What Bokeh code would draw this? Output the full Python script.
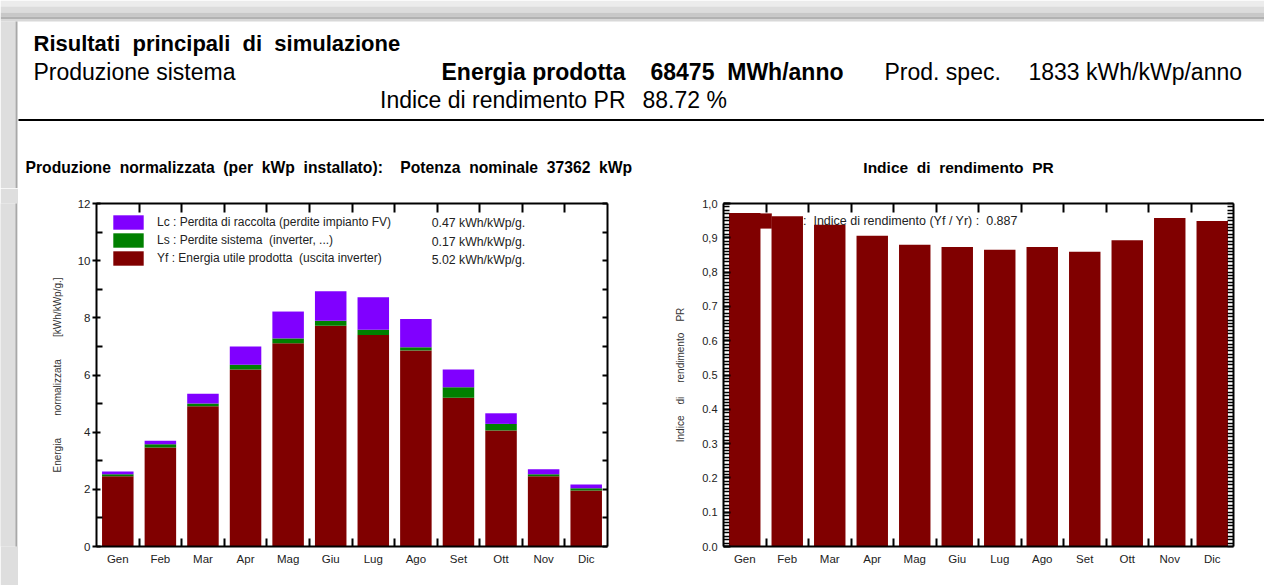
from bokeh.plotting import figure
from bokeh.models import (Range1d, LinearAxis, FixedTicker, CustomJSTickFormatter, Label,
                          Legend, LegendItem, ColumnDataSource, BoxAnnotation)
from bokeh.layouts import column, row
from bokeh.embed import file_html
from bokeh.resources import INLINE

FONT = "Liberation Sans"
NB = "\u00a0"

# ---------------- data ----------------
months = ["Gen", "Feb", "Mar", "Apr", "Mag", "Giu", "Lug", "Ago", "Set", "Ott", "Nov", "Dic"]
yf = [2.46, 3.46, 4.91, 6.19, 7.11, 7.72, 7.40, 6.86, 5.20, 4.06, 2.46, 1.96]   # Energia utile prodotta
ls = [0.07, 0.12, 0.09, 0.17, 0.17, 0.18, 0.18, 0.11, 0.37, 0.23, 0.07, 0.08]   # Perdite sistema
lc = [0.09, 0.12, 0.34, 0.64, 0.94, 1.03, 1.14, 0.99, 0.62, 0.37, 0.17, 0.13]   # Perdita di raccolta
pr = [0.972, 0.963, 0.938, 0.906, 0.880, 0.873, 0.865, 0.873, 0.859, 0.893, 0.958, 0.949]

stack_labels = ["Lc : Perdita di raccolta (perdite impianto FV)",
                "Ls : Perdite sistema  (inverter, ...)",
                "Yf : Energia utile prodotta  (uscita inverter)"]
stack_values = ["0.47 kWh/kWp/g.", "0.17 kWh/kWp/g.", "5.02 kWh/kWp/g."]
stack_colors = ["#8000ff", "#008000", "#800000"]
pr_label = ":  Indice di rendimento (Yf / Yr) :  0.887"

energy_ticks = [0, 2, 4, 6, 8, 10, 12]
energy_minor = [1, 3, 5, 7, 9, 11]
pr_ticks = [0.0, 0.1, 0.2, 0.3, 0.4, 0.5, 0.6, 0.7, 0.8, 0.9, 1.0]
pr_tick_labels = ["0.0", "0.1", "0.2", "0.3", "0.4", "0.5", "0.6", "0.7", "0,8", "0,9", "1,0"]

W, H = 1264, 585
HDR_H = 188
CH_H = H - HDR_H
SHADOW = "#dedede"
EDGE = "#a8a8a8"

# ---------------- header ----------------
hdr = figure(width=W, height=HDR_H, x_range=Range1d(0, W), y_range=Range1d(HDR_H, 0),
             x_axis_type=None, y_axis_type=None, output_backend="svg", toolbar_location=None,
             min_border=0)
hdr.outline_line_color = None

for t, b, c in [(0, 6, "#ececec"), (6, 12, "#dcdcdc"), (12, 16, "#c8c8c8"), (16, 19, "#b2b2b2"),
                (19, 21, "#d8d8d8")]:
    hdr.add_layout(BoxAnnotation(top=t, bottom=b, fill_color=c, fill_alpha=1, line_color=None))
hdr.add_layout(BoxAnnotation(left=0, right=15, top=21, bottom=HDR_H, fill_color=SHADOW,
                             fill_alpha=1, line_color=None))
hdr.add_layout(BoxAnnotation(left=15, right=17, top=21, bottom=HDR_H, fill_color=EDGE,
                             fill_alpha=1, line_color=None))
hdr.add_layout(BoxAnnotation(left=18, top=118.5, bottom=120.5, fill_color="black",
                             fill_alpha=1, line_color=None))


def lab(text, x, y, size, bold=False, align="left"):
    hdr.add_layout(Label(x=x, y=y, text=text, text_font=FONT, text_font_size=f"{size}px",
                         text_font_style="bold" if bold else "normal", text_align=align,
                         text_baseline="middle", text_color="black"))


G2 = NB * 2
lab("Risultati" + G2 + "principali" + G2 + "di" + G2 + "simulazione", 33, 43, 22, bold=True)
lab("Produzione sistema", 33, 71, 23)
lab("Energia prodotta", 625, 71, 23, bold=True, align="right")
lab("68475" + G2 + "MWh/anno", 650, 71, 23, bold=True)
lab("Prod. spec.", 884, 71, 23)
lab("1833 kWh/kWp/anno", 1028, 71, 23)
lab("Indice di rendimento PR", 625, 99, 23, align="right")
lab("88.72 %", 642, 99, 23)
lab("Produzione" + G2 + "normalizzata" + G2 + "(per" + G2 + "kWp" + G2 + "installato):" + NB * 4 +
    "Potenza" + G2 + "nominale" + G2 + "37362" + G2 + "kWp", 25, 167, 15.7, bold=True)
lab("Indice" + G2 + "di" + G2 + "rendimento" + G2 + "PR", 958, 167, 15.5, bold=True,
    align="center")

# ---------------- left strip (page shadow) ----------------
strip = figure(width=18, height=CH_H, x_range=Range1d(0, 18), y_range=Range1d(0, 1),
               x_axis_type=None, y_axis_type=None, output_backend="svg", toolbar_location=None,
               min_border=0)
strip.outline_line_color = None
strip.border_fill_color = SHADOW
strip.background_fill_color = SHADOW
strip.add_layout(BoxAnnotation(left=15, right=17, top=3, bottom=-3, fill_color=EDGE,
                               fill_alpha=1, line_color=None))
strip.add_layout(BoxAnnotation(left=17, right=18, top=3, bottom=-3, fill_color="white",
                               fill_alpha=1, line_color=None))

xs = [i + 0.5 for i in range(len(months))]
boundaries = list(range(1, len(months)))
month_fmt = CustomJSTickFormatter(args=dict(names=months),
                                  code="return names[Math.round(tick - 0.5)];")


def style_axis(ax, size="11.5px"):
    ax.axis_line_color = "black"
    ax.axis_line_width = 2
    ax.major_tick_line_color = "black"
    ax.major_tick_line_width = 2
    ax.minor_tick_line_color = "black"
    ax.minor_tick_line_width = 2
    ax.major_label_text_font = FONT
    ax.major_label_text_font_size = size
    ax.major_label_text_color = "#222222"
    ax.axis_label_text_font = FONT
    ax.axis_label_text_font_style = "normal"
    ax.axis_label_text_font_size = "10px"
    ax.axis_label_text_color = "#333333"


def add_x_axes(p):
    bx = LinearAxis(ticker=FixedTicker(ticks=xs, minor_ticks=boundaries), formatter=month_fmt)
    style_axis(bx)
    bx.major_tick_in = 0
    bx.major_tick_out = 0
    bx.minor_tick_in = 8
    bx.minor_tick_out = 0
    bx.major_label_standoff = 6
    p.add_layout(bx, "below")
    tx = LinearAxis(ticker=FixedTicker(ticks=[], minor_ticks=boundaries))
    style_axis(tx)
    tx.minor_tick_in = 9
    tx.minor_tick_out = 0
    p.add_layout(tx, "above")


# ---------------- left chart ----------------
pl = figure(width=632, height=CH_H, x_range=Range1d(0, 12), y_range=Range1d(0, 12),
            x_axis_type=None, y_axis_type=None, output_backend="svg", toolbar_location=None,
            min_border_left=78, min_border_right=43, min_border_top=15, min_border_bottom=39)
pl.outline_line_color = None
pl.grid.visible = False

src = ColumnDataSource(dict(x=xs, yf=yf, ls=ls, lc=lc))
rs = pl.vbar_stack(["yf", "ls", "lc"], x="x", width=0.74, source=src,
                   fill_color=[stack_colors[2], stack_colors[1], stack_colors[0]], line_color=None)
r_yf, r_ls, r_lc = rs

ly = LinearAxis(ticker=FixedTicker(ticks=energy_ticks, minor_ticks=energy_minor),
                axis_label="Energia" + NB * 8 + "normalizzata" + NB * 8 + "[kWh/kWp/g.]")
style_axis(ly)
ly.major_tick_in = 4
ly.major_tick_out = 4
ly.minor_tick_in = 6
ly.minor_tick_out = 0
ly.major_label_standoff = 2
ly.axis_label_standoff = 12
pl.add_layout(ly, "left")

# right side: tick marks only (all drawn as minor ticks, no labels)
ry = LinearAxis(ticker=FixedTicker(ticks=[], minor_ticks=energy_ticks + energy_minor))
style_axis(ry)
ry.minor_tick_in = 5
ry.minor_tick_out = 0
pl.add_layout(ry, "right")
add_x_axes(pl)

leg = Legend(items=[LegendItem(label=stack_labels[0], renderers=[r_lc]),
                    LegendItem(label=stack_labels[1], renderers=[r_ls]),
                    LegendItem(label=stack_labels[2], renderers=[r_yf])],
             location=(13, 343 - 10 - 54), orientation="vertical", glyph_width=38, glyph_height=18,
             label_height=18, spacing=0, padding=0, margin=0, label_standoff=10,
             label_text_font=FONT, label_text_font_size="12px", label_text_color="#222222",
             border_line_color=None, background_fill_alpha=0)
pl.add_layout(leg)

for v, yy in zip(stack_values, [11.32, 10.67, 10.04]):
    pl.add_layout(Label(x=7.87, y=yy, text=v, text_font=FONT, text_font_size="12.3px",
                        text_color="#222222", text_baseline="middle"))

# ---------------- right chart ----------------
pr_fig = figure(width=614, height=CH_H, x_range=Range1d(0, 12), y_range=Range1d(0, 1.0),
                x_axis_type=None, y_axis_type=None, output_backend="svg", toolbar_location=None,
                min_border_left=73, min_border_right=31, min_border_top=15, min_border_bottom=39)
pr_fig.outline_line_color = None
pr_fig.grid.visible = False

psrc = ColumnDataSource(dict(x=xs, pr=pr))
r_pr = pr_fig.vbar(x="x", top="pr", width=0.74, source=psrc, fill_color="#800000", line_color=None)

pr_minor = [i / 100 for i in range(101)]
pr_fmt = CustomJSTickFormatter(args=dict(names=pr_tick_labels),
                               code="return names[Math.round(tick * 10)];")
py = LinearAxis(ticker=FixedTicker(ticks=pr_ticks, minor_ticks=pr_minor), formatter=pr_fmt,
                axis_label="Indice" + NB * 4 + "di" + NB * 5 + "rendimento" + NB * 4 + "PR")
style_axis(py, size="11px")
py.major_tick_in = 7
py.major_tick_out = 0
py.minor_tick_in = 6
py.minor_tick_out = 0
py.minor_tick_line_width = 1.5
py.major_label_standoff = 6
py.axis_label_standoff = 13
pr_fig.add_layout(py, "left")

pyr = LinearAxis(ticker=FixedTicker(ticks=[], minor_ticks=pr_minor))
style_axis(pyr)
pyr.minor_tick_in = 6
pyr.minor_tick_out = 0
pyr.minor_tick_line_width = 1.5
pr_fig.add_layout(pyr, "right")
add_x_axes(pr_fig)

leg2 = Legend(items=[LegendItem(label=pr_label, renderers=[r_pr])],
              location=(15, 343 - 8 - 19), glyph_width=37, glyph_height=19, label_height=19,
              spacing=0, padding=0, margin=0, label_standoff=28,
              label_text_font=FONT, label_text_font_size="12.5px", label_text_color="#222222",
              border_line_color=None, background_fill_alpha=0)
pr_fig.add_layout(leg2)

layout = column(hdr, row(strip, pl, pr_fig, spacing=0), spacing=0)

open("out.html", "w").write(file_html(layout, INLINE))
